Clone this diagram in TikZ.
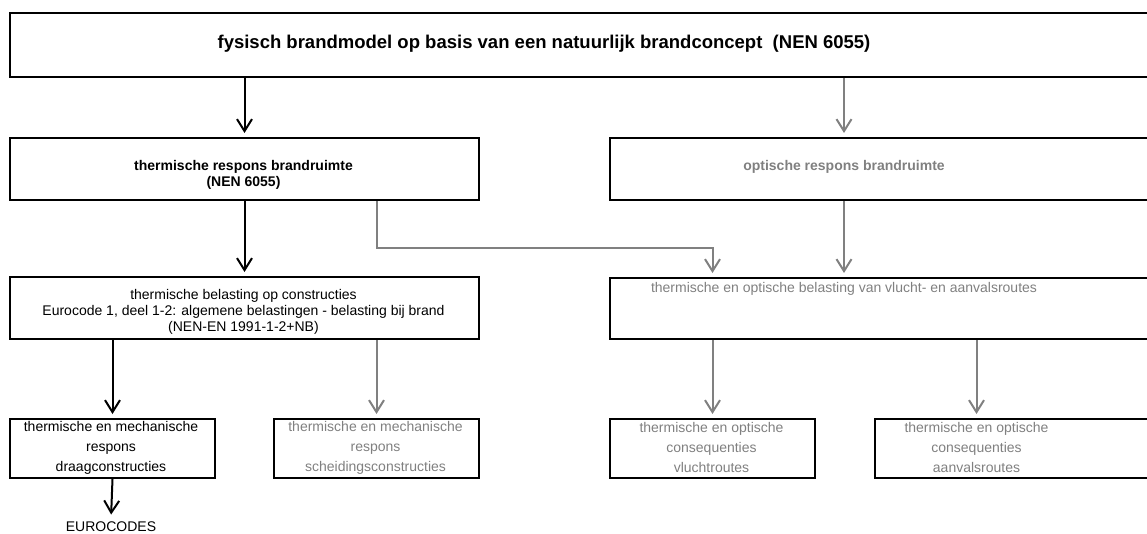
\documentclass[tikz,border=0pt]{standalone}
\usepackage{fontspec}
\setmainfont{Liberation Sans}
\usetikzlibrary{arrows.meta}
\definecolor{grijs}{RGB}{128,128,128}

\tikzset{
  frame/.style={draw,line width=2pt,anchor=north west,inner sep=0pt},
  arr/.style={line width=2pt,-{Straight Barb[length=12pt,width=15pt]},shorten >=4pt},
  garr/.style={arr,draw=grijs},
  txt/.style={align=center,font=\fontsize{14pt}{16pt}\selectfont},
  txtb/.style={align=center,font=\fontsize{14pt}{16pt}\selectfont\bfseries},
  txtc/.style={align=center,font=\fontsize{14pt}{20pt}\selectfont},
}

\begin{document}
\begin{tikzpicture}[x=1pt,y=1pt]
\def\lw{469pt}
\def\sw{205pt}
\def\rw{560pt}
\def\hb{62pt}
\def\hs{59pt}
\useasboundingbox (0,0) rectangle (1147,-533);

% frames
\node[frame,minimum width=1160pt,minimum height=64pt] (M) at (9,-12) {};
\node[frame,minimum width=\lw,minimum height=\hb] (T) at (9,-137) {};
\node[frame,minimum width=\rw,minimum height=\hb] (O) at (609,-137) {};
\node[frame,minimum width=\lw,minimum height=\hb] (TB) at (9,-276) {};
\node[frame,minimum width=\rw,minimum height=61pt] (OB) at (609,-277) {};
\node[frame,minimum width=\sw,minimum height=\hs] (D) at (9,-418) {};
\node[frame,minimum width=\sw,minimum height=\hs] (S) at (273,-418) {};
\node[frame,minimum width=\sw,minimum height=\hs] (V) at (609,-418) {};
\node[frame,minimum width=300pt,minimum height=\hs] (A) at (874,-418) {};

% texts
\node[txtb,font=\fontsize{18.5pt}{20pt}\selectfont\bfseries] (Mt) at (544,-44) {fysisch brandmodel op basis van een natuurlijk brandconcept\ \ (NEN 6055)};
\node[txtb] (Tt) at (243.5,-175) {thermische respons brandruimte\\(NEN 6055)};
\node[txtb,text=grijs] (Ot) at (844,-167) {optische respons brandruimte};
\node[txt] (TBt) at (243.5,-312) {thermische belasting op constructies\\Eurocode 1, deel 1-2: algemene belastingen - belasting bij brand\\(NEN-EN 1991-1-2+NB)};
\node[txt,text=grijs] (OBt) at (844,-289) {thermische en optische belasting van vlucht- en aanvalsroutes};
\node[txtc] (Dt) at (111,-447.5) {thermische en mechanische\\respons\\draagconstructies};
\node[txtc,text=grijs] (St) at (375.5,-447.5) {thermische en mechanische\\respons\\scheidingsconstructies};
\node[txtc,text=grijs] (Vt) at (711.5,-447.5) {thermische en optische\\consequenties\\vluchtroutes};
\node[txtc,text=grijs] (At) at (976.5,-447.5) {thermische en optische\\consequenties\\aanvalsroutes};
\node[txt] (E) at (111,-527) {EUROCODES};

% arrows
\draw[arr] (M.south -| T.north) -- (T.north);
\draw[garr] (M.south -| Ot) -- (O.north -| Ot);
\draw[arr] (T.south) -- (TB.north);
\draw[garr] (T.south -| S.north) -- ++(0,-47) -| (OB.north -| V.north);
\draw[garr] (O.south -| Ot) -- (OB.north -| Ot);
\draw[arr] (TB.south -| D.north) -- (D.north);
\draw[garr] (TB.south -| S.north) -- (S.north);
\draw[garr] (OB.south -| V.north) -- (V.north);
\draw[garr] (OB.south -| At) -- (A.north -| At);
\draw[arr] (D.south) -- (E.north);

\end{tikzpicture}
\end{document}
